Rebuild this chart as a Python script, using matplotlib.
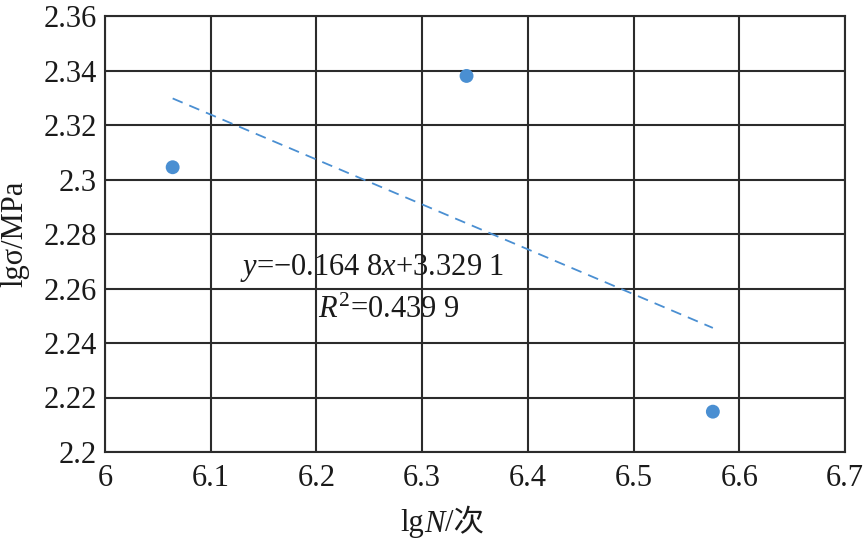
import matplotlib
matplotlib.use("Agg")
import matplotlib.pyplot as plt
import numpy as np

plt.rcParams['font.family'] = ['Liberation Serif', 'Noto Sans CJK SC']
plt.rcParams['mathtext.fontset'] = 'custom'
plt.rcParams['mathtext.rm'] = 'Liberation Serif'
plt.rcParams['mathtext.it'] = 'Liberation Serif:italic'

# data
lgN = [6.064, 6.342, 6.575]
lg_sigma = [2.3045, 2.338, 2.2148]
slope = -0.1648
intercept = 3.3291
r2 = 0.4399

xticks = [6.0, 6.1, 6.2, 6.3, 6.4, 6.5, 6.6, 6.7]
xtick_labels = ['6', '6.1', '6.2', '6.3', '6.4', '6.5', '6.6', '6.7']
yticks = [2.2, 2.22, 2.24, 2.26, 2.28, 2.3, 2.32, 2.34, 2.36]
ytick_labels = ['2.2', '2.22', '2.24', '2.26', '2.28', '2.3', '2.32', '2.34', '2.36']

blue = '#4a8fd2'
grid_c = '#2b2b2b'
fs = 22

fig = plt.figure(figsize=(8.65, 5.41), dpi=100)
ax = fig.add_axes([105 / 865, 1 - 452 / 541, 740 / 865, 436 / 541])

ax.set_xlim(6.0, 6.7)
ax.set_ylim(2.2, 2.36)
ax.set_xticks(xticks)
ax.set_xticklabels(xtick_labels)
ax.set_yticks(yticks)
ax.set_yticklabels(ytick_labels)
ax.tick_params(length=0, labelsize=fs, colors='#1a1a1a')
ax.tick_params(axis='x', pad=9)
ax.tick_params(axis='y', pad=6)
ax.grid(True, color=grid_c, linewidth=1.5)
ax.set_axisbelow(True)
for s in ax.spines.values():
    s.set_color(grid_c)
    s.set_linewidth(1.5)

# trend line
xl = np.array([min(lgN), max(lgN)])
ax.plot(xl, slope * xl + intercept, linestyle=(0, (6, 4)), color=blue, linewidth=1.3, zorder=3)
ax.scatter(lgN, lg_sigma, s=100, color=blue, edgecolors='none', zorder=4)

eq = r'$\it{y}$=−0.164 8$\it{x}$+3.329 1'
ax.text(6.2526, 2.2675, eq, fontsize=fs, ha='center', va='center', color='#1a1a1a', zorder=5)
ax.text(6.2687, 2.2518, r'$\it{R}^{2}$=0.439 9', fontsize=fs, ha='center', va='center',
        color='#1a1a1a', zorder=5)

# x label in pieces so the CJK glyph can fall back
t1 = fig.text(0.5 - 8 / 865, 1 - 524 / 541, 'lg', fontsize=fs, ha='right', va='center',
              color='#1a1a1a')
t2 = ax.annotate('N', xy=(1, 0), xycoords=t1, va='bottom', ha='left', fontsize=fs,
                 style='italic', color='#1a1a1a', annotation_clip=False)
t3 = ax.annotate('/次', xy=(1, 0), xycoords=t2, va='bottom', ha='left', fontsize=fs,
                 color='#1a1a1a', annotation_clip=False)

ax.set_ylabel('lgσ/MPa', fontsize=fs, labelpad=10, color='#1a1a1a')

fig.savefig('out.png', dpi=100)
